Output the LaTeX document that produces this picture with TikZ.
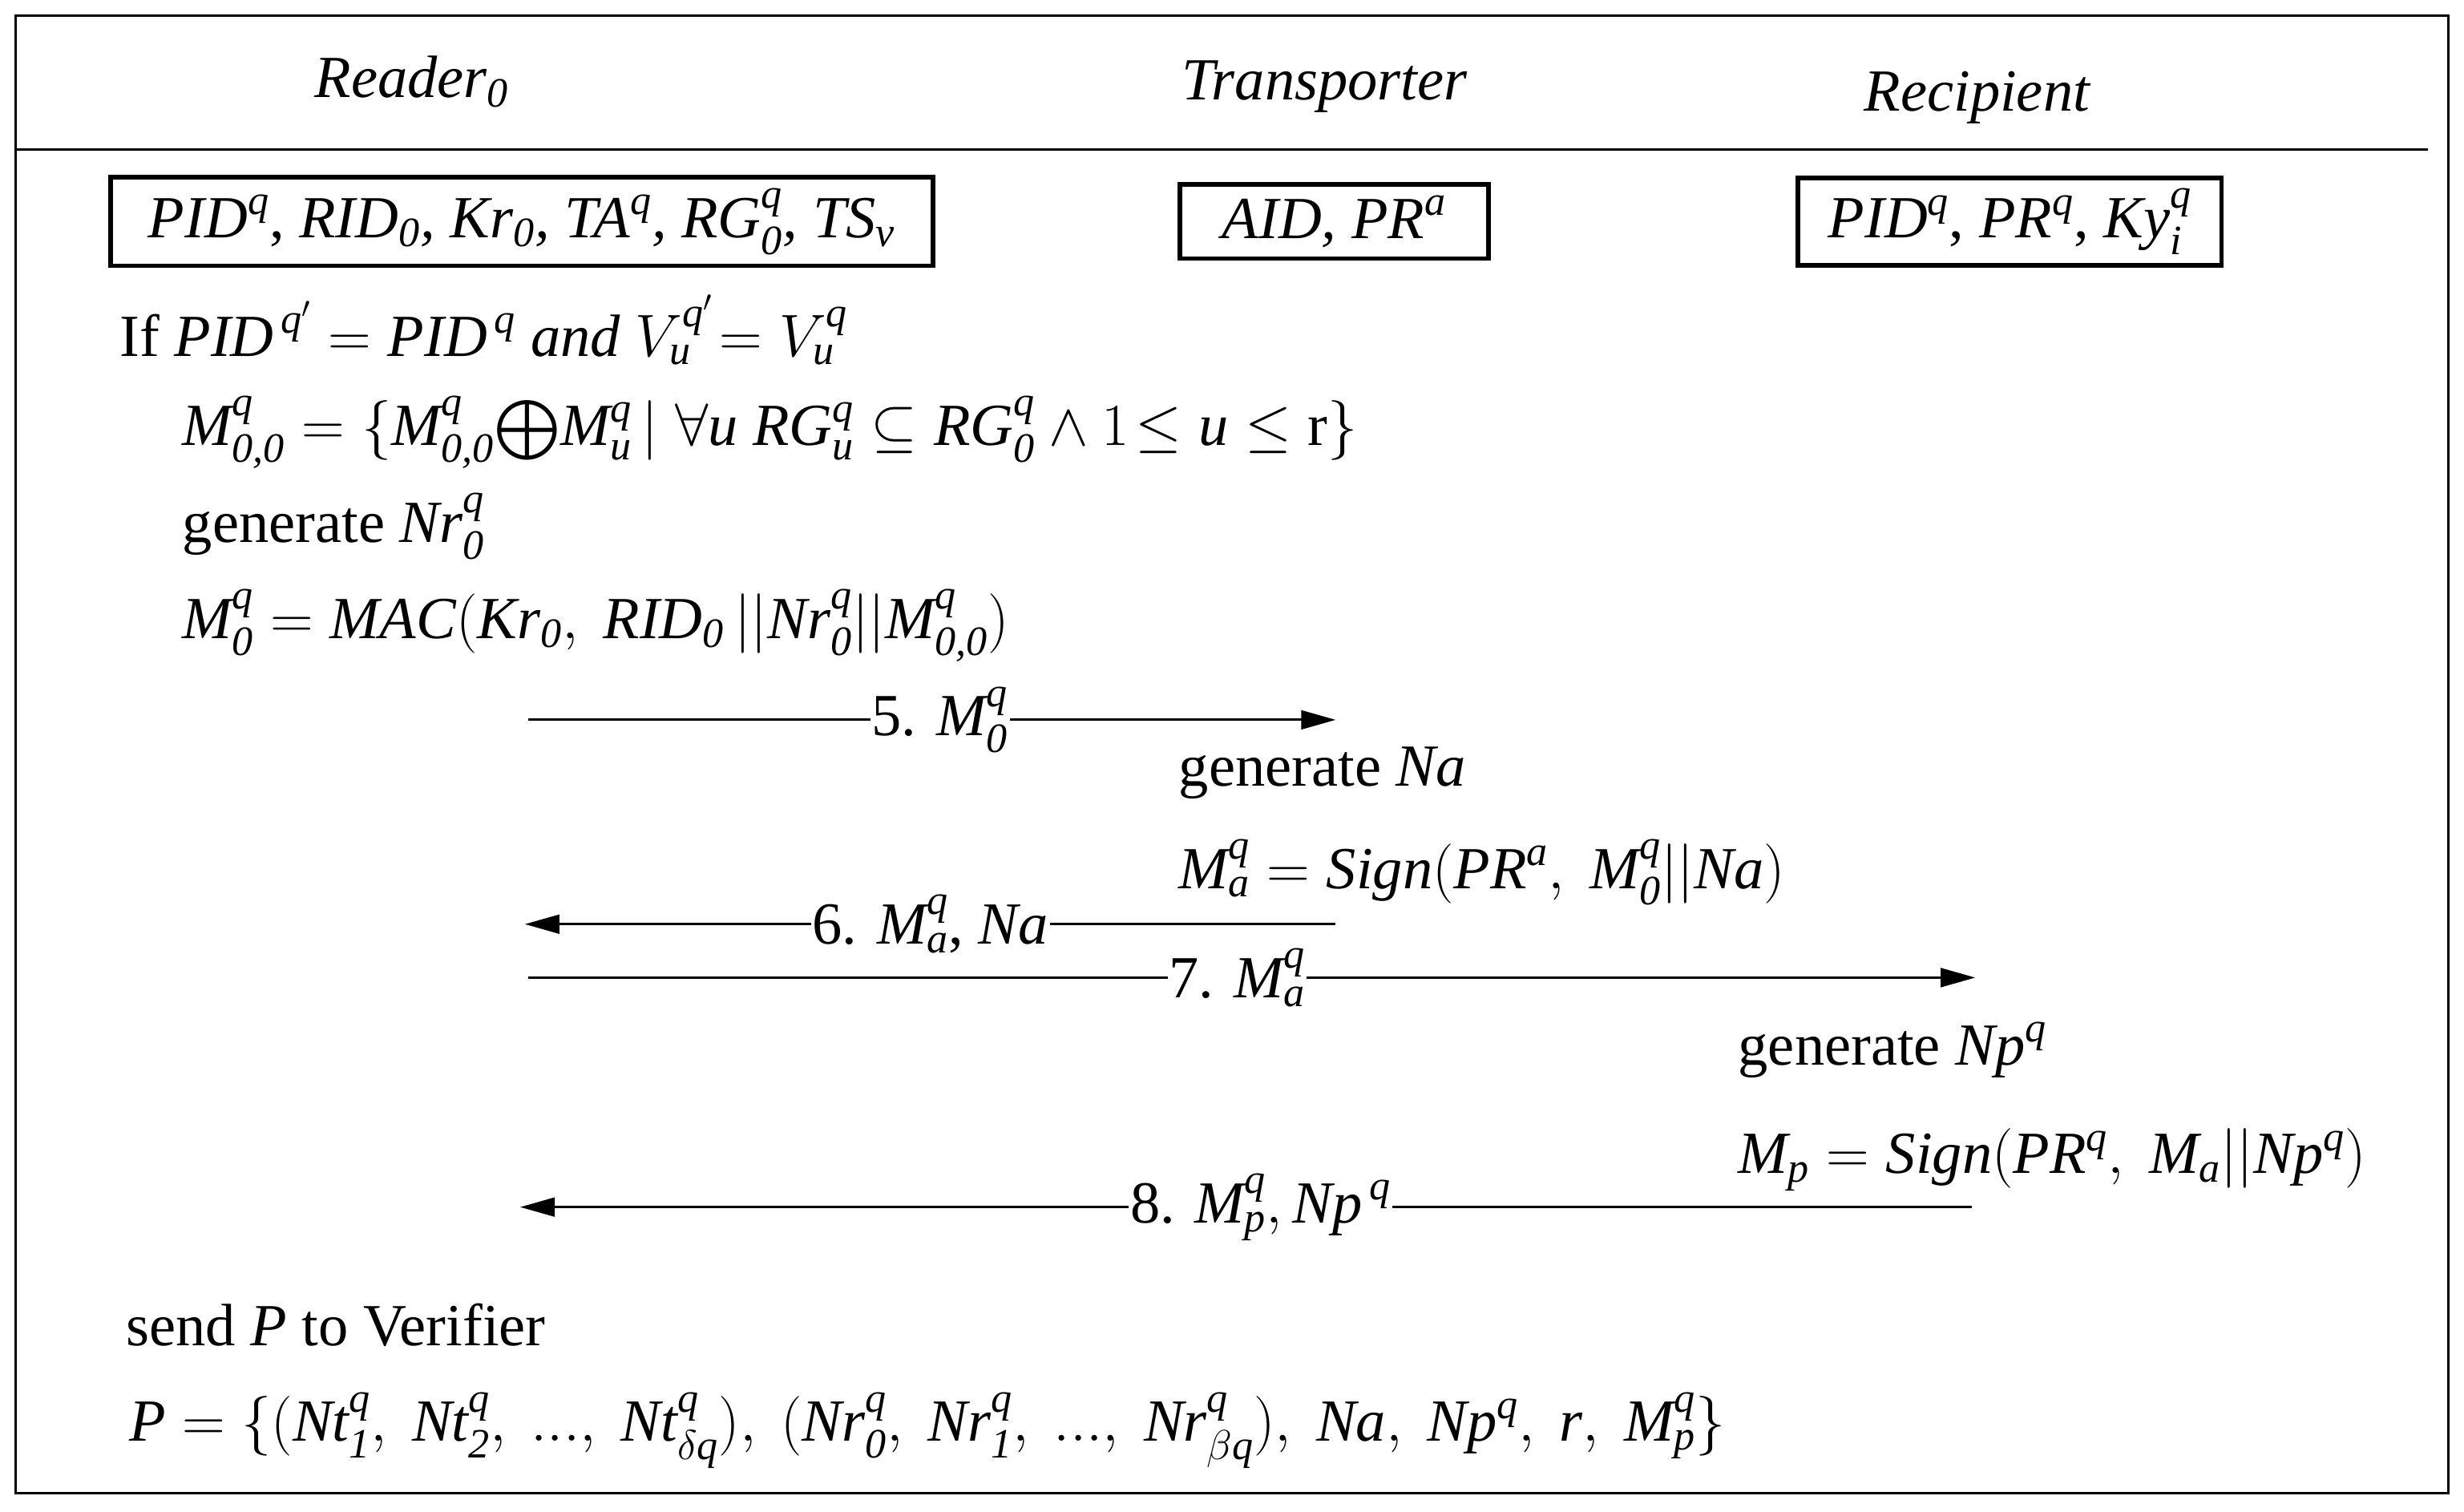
\RequirePackage{fix-cm}
\documentclass[tikz,border=0pt]{standalone}
\usepackage{amsmath,amssymb}
\usepackage{fontspec}
\setmainfont{Liberation Serif}
\usetikzlibrary{arrows.meta}
\newcommand\mi[1]{\text{\itshape #1}}
\begin{document}
\begin{tikzpicture}[x=1pt,y=-1pt,
  every node/.style={font=\fontsize{38}{44}\selectfont,inner sep=2pt},
  lt/.style={anchor=west},
  bx/.style={draw,line width=3pt,inner xsep=12pt,inner ysep=7pt},
  msg/.style={line width=1.6pt,-{Triangle[length=22pt,width=12pt]}},
  lab/.style={fill=white,inner sep=1pt}]
\useasboundingbox (0,0) rectangle (1568,962);
\draw[line width=1.6pt] (10,10) rectangle (1558,950);
\draw[line width=1.6pt] (10,95) -- (1545,95);
\node (h1) at (262,52) {\itshape Reader\textsubscript{0}};
\node (h2) at (843,55) {\itshape Transporter};
\node (h3) at (1258,62) {\itshape Recipient};
\node[bx,inner xsep=24pt] (b1) at (332,141) {$\mi{PID}^{\mi{q}}$, \itshape RID\textsubscript{0}, Kr\textsubscript{0}, $\mi{TA}^{\mi{q}}$, $\mi{RG}^{\mi{q}}_{\mi{0}}$, $\mi{TS}_{\mi{v}}$};
\node[bx,inner xsep=27pt] (b2) at (849,141) {\itshape AID, $\mi{PR}^{\mi{a}}$};
\node[bx,inner xsep=19pt] (b3) at (1279,141) {$\mi{PID}^{\mi{q}}$, $\mi{PR}^{\mi{q}}$, $\mi{Ky}^{\mi{q}}_{\mi{i}}$};
\node[lt] (t1) at (74,210) {If $\mi{PID}^{\,\mi{q}'} = \mi{PID}^{\,\mi{q}}$ \itshape and $V^{\mi{q}'}_{\mi{u}}\!= V^{\mi{q}}_{\mi{u}}$};
\node[lt] (t2) at (114,275) {$\mi{M}^{\mi{q}}_{\mi{0,0}} = \{\mi{M}^{\mi{q}}_{\mi{0,0}}\!\bigoplus\!\mi{M}^{\mi{q}}_{\mi{u}}\,|\;\forall \mi{u}\ \mi{RG}^{\mi{q}}_{\mi{u}}\subseteq \mi{RG}^{\mi{q}}_{\mi{0}}\wedge 1\!\leq \mi{u}\leq \text{r}\}$};
\node[lt] (t3) at (114,335) {generate $\mi{Nr}^{\mi{q}}_{\mi{0}}$};
\node[lt] (t4) at (114,398) {$\mi{M}^{\mi{q}}_{\mi{0}} = \mi{MAC}(\mi{Kr}_{\mi{0}},\ \mi{RID}_{\mi{0}}\,||\mi{Nr}^{\mi{q}}_{\mi{0}}||\mi{M}^{\mi{q}}_{\mi{0,0}})$};
\coordinate (a5s) at (336,458); \coordinate (a5e) at (850,458);
\draw[msg] (a5s) -- (a5e) node[lab,pos=0.51] (l5) {5. $\mi{M}^{\mi{q}}_{\mi{0}}$};
\node[lt] (t5) at (748,492) {generate \itshape Na};
\node[lt] (t6) at (748,555) {$\mi{M}^{\mi{q}}_{\mi{a}} = \mi{Sign}(\mi{PR}^{\mi{a}},\ \mi{M}^{\mi{q}}_{\mi{0}}||\mi{Na})$};
\coordinate (a6s) at (850,588); \coordinate (a6e) at (334,588);
\draw[msg] (a6s) -- (a6e) node[lab,pos=0.50] (l6) {6. $\mi{M}^{\mi{q}}_{\mi{a}}$, \itshape Na};
\coordinate (a7s) at (336,622); \coordinate (a7e) at (1257,622);
\draw[msg] (a7s) -- (a7e) node[lab,pos=0.49] (l7) {7. $\mi{M}^{\mi{q}}_{\mi{a}}$};
\node[lt] (t7) at (1104,668) {generate $\mi{Np}^{\mi{q}}$};
\node[lt] (t8) at (1104,738) {$\mi{M}_{\mi{p}} = \mi{Sign}(\mi{PR}^{\mi{q}},\ \mi{M}_{\mi{a}}||\mi{Np}^{\mi{q}})$};
\coordinate (a8s) at (1255,768); \coordinate (a8e) at (331,768);
\draw[msg] (a8s) -- (a8e) node[lab,pos=0.49] (l8) {8. $\mi{M}^{\mi{q}}_{\mi{p}},\mi{Np}^{\,\mi{q}}$};
\node[lt] (t9) at (78,843) {send \textit{P} to Verifier};
\node[lt] (t10) at (80,910) {$\mi{P} = \{(\mi{Nt}^{\mi{q}}_{\mi{1}},\ \mi{Nt}^{\mi{q}}_{\mi{2}},\ ...,\ \mi{Nt}^{\mi{q}}_{\delta\mi{q}}),\ (\mi{Nr}^{\mi{q}}_{\mi{0}},\ \mi{Nr}^{\mi{q}}_{\mi{1}},\ ...,\ \mi{Nr}^{\mi{q}}_{\beta\mi{q}}),\ \mi{Na},\ \mi{Np}^{\mi{q}},\ \mi{r},\ \mi{M}^{\mi{q}}_{\mi{p}}\}$};
\end{tikzpicture}
\end{document}
